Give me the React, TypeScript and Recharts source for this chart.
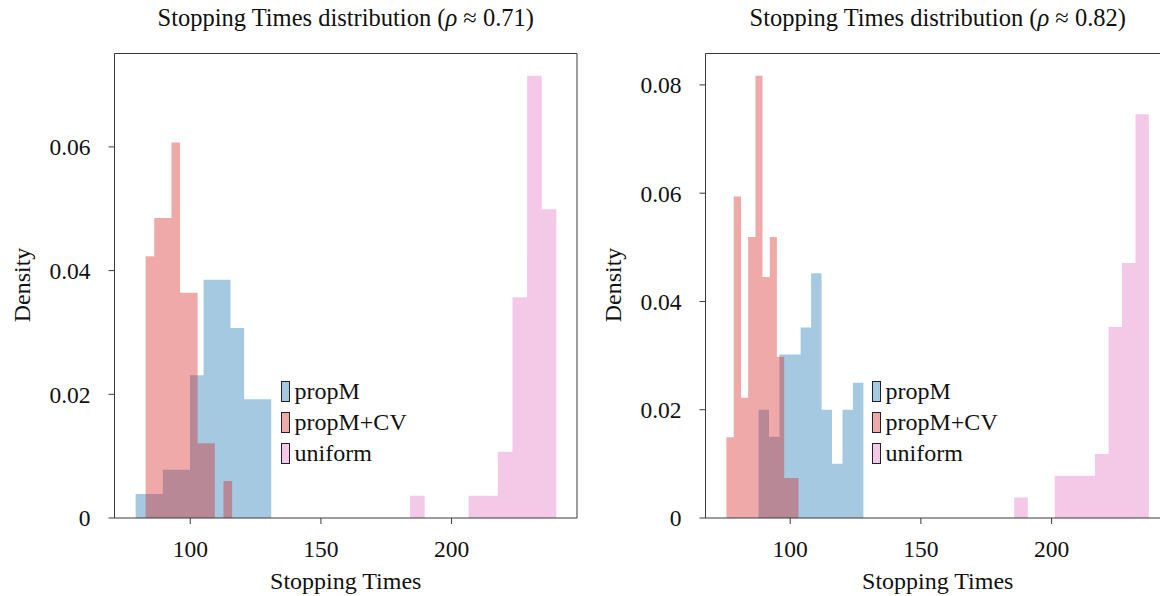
import { ComposedChart, Area, XAxis, YAxis, ReferenceLine } from "recharts";

const SERIES_NAMES = ["propM", "propM+CV", "uniform"];
const SERIES_COLORS = ["#1f77b4", "#d62728", "#e377c2"];

// rho ~ 0.71 : bin edges and densities
const leftPropMEdges = [79.1, 84.3, 89.5, 94.7, 99.9, 105.1, 110.2, 115.4, 120.6, 125.8, 131.0];
const leftPropMDensity = [0.0039, 0.0039, 0.0078, 0.0078, 0.0231, 0.0385, 0.0385, 0.0307, 0.0192, 0.0192];
const leftPropMCVEdges = [82.9, 86.2, 89.5, 92.8, 96.1, 99.5, 102.8, 106.1, 109.4, 112.7, 116.0];
const leftPropMCVDensity = [0.0423, 0.0485, 0.0485, 0.0607, 0.0364, 0.0364, 0.0121, 0.0121, 0, 0.006];
const leftUniformEdges = [184.1, 189.7, 195.3, 200.9, 206.5, 212.1, 217.7, 223.3, 228.9, 234.5, 240.1];
const leftUniformDensity = [0.0036, 0, 0, 0, 0.0036, 0.0036, 0.0107, 0.0357, 0.0715, 0.0499];

// rho ~ 0.82
const rightPropMEdges = [87.9, 91.9, 95.9, 99.9, 104.0, 108.0, 112.0, 116.0, 120.0, 124.0, 128.0];
const rightPropMDensity = [0.02, 0.015, 0.0302, 0.0302, 0.0352, 0.0452, 0.02, 0.01, 0.02, 0.025];
const rightPropMCVEdges = [75.6, 78.4, 81.2, 83.9, 86.7, 89.4, 92.2, 94.9, 97.7, 100.4, 103.2];
const rightPropMCVDensity = [0.0149, 0.0594, 0.0222, 0.0519, 0.0817, 0.0445, 0.0519, 0.0298, 0.0074, 0.0074];
const rightUniformEdges = [185.7, 190.9, 196.0, 201.2, 206.3, 211.5, 216.6, 221.8, 226.9, 232.1, 237.2];
const rightUniformDensity = [0.0038, 0, 0, 0.0078, 0.0078, 0.0078, 0.0118, 0.0353, 0.0471, 0.0746];

const xTicks = [100, 150, 200];
const leftYTicks = [0, 0.02, 0.04, 0.06];
const rightYTicks = [0, 0.02, 0.04, 0.06, 0.08];

const FONT = '"Liberation Serif", "DejaVu Serif", serif';
const AXIS = "#3a3a3a";

// step points: one per bin edge, last edge repeats last bin height
function toSteps(edges: number[], dens: number[]) {
  return edges.map((x, i) => ({ x, y: dens[Math.min(i, dens.length - 1)] }));
}

type PanelProps = {
  left: number;
  rho: string;
  xDomain: [number, number];
  yDomain: [number, number];
  yTicks: number[];
  hist: { edges: number[]; dens: number[] }[];
  marginLeft: number;
  marginRight: number;
};

function Panel({ left, rho, xDomain, yDomain, yTicks, hist, marginLeft, marginRight }: PanelProps) {
  const W = 600;
  const plotL = marginLeft + 100;
  const plotR = W - marginRight;
  const cx = (plotL + plotR) / 2;
  const tickStyle = { fontFamily: FONT, fontSize: 23.5, fill: "#111" };
  return (
    <div style={{ position: "absolute", left, top: 0, width: W, height: 596 }}>
      <div
        style={{
          position: "absolute",
          left: cx - 260,
          width: 520,
          top: 4,
          textAlign: "center",
          fontFamily: FONT,
          fontSize: 24.5,
          color: "#111",
        }}
      >
        Stopping Times distribution (<i>ρ</i> ≈ {rho})
      </div>
      <ComposedChart
        width={W}
        height={596}
        margin={{ top: 53.5, right: marginRight, bottom: 28, left: marginLeft }}
      >
        <XAxis
          type="number"
          dataKey="x"
          domain={xDomain}
          ticks={xTicks}
          allowDataOverflow
          height={50}
          tickSize={6}
          tickMargin={16}
          tick={tickStyle}
          stroke={AXIS}
          tickLine={{ stroke: AXIS }}
        />
        <YAxis
          type="number"
          domain={yDomain}
          ticks={yTicks}
          allowDataOverflow
          width={100}
          tickSize={6}
          tickMargin={18}
          tick={tickStyle}
          stroke={AXIS}
          tickLine={{ stroke: AXIS }}
          tickFormatter={(v: number) => (v === 0 ? "0" : v.toFixed(2))}
        />
        {hist.map((h, i) => (
          <Area
            key={SERIES_NAMES[i]}
            name={SERIES_NAMES[i]}
            data={toSteps(h.edges, h.dens)}
            dataKey="y"
            type="stepAfter"
            stroke="none"
            fill={SERIES_COLORS[i]}
            fillOpacity={0.4}
            isAnimationActive={false}
            dot={false}
            activeDot={false}
          />
        ))}
        <ReferenceLine y={yDomain[1]} stroke={AXIS} strokeWidth={1} />
        <ReferenceLine x={xDomain[1]} stroke={AXIS} strokeWidth={1} />
      </ComposedChart>
      <div
        style={{
          position: "absolute",
          left: cx - 150,
          top: 566,
          width: 300,
          textAlign: "center",
          fontFamily: FONT,
          fontSize: 24,
          color: "#111",
          lineHeight: "30px",
        }}
      >
        Stopping Times
      </div>
      <div
        style={{
          position: "absolute",
          left: 22 + (marginLeft - 14.5) - 60,
          top: 285 - 15,
          width: 120,
          height: 30,
          lineHeight: "30px",
          textAlign: "center",
          transform: "rotate(-90deg)",
          fontFamily: FONT,
          fontSize: 24,
          color: "#111",
        }}
      >
        Density
      </div>
      <div style={{ position: "absolute", left: plotL + 166, top: 376 }}>
        {SERIES_NAMES.map((n, i) => (
          <div key={n} style={{ display: "flex", alignItems: "center", height: 31 }}>
            <div
              style={{
                width: 7,
                height: 19,
                border: "1.5px solid #222",
                background: SERIES_COLORS[i] + "66",
                marginRight: 5,
              }}
            />
            <span style={{ fontFamily: FONT, fontSize: 24, color: "#111" }}>{n}</span>
          </div>
        ))}
      </div>
    </div>
  );
}

export default function App() {
  return (
    <div
      style={{
        position: "fixed",
        left: 0,
        top: 0,
        width: 1160,
        height: 596,
        overflow: "hidden",
        background: "#fff",
      }}
    >
      <Panel
        left={0}
        rho="0.71"
        xDomain={[71, 248]}
        yDomain={[0, 0.0751]}
        yTicks={leftYTicks}
        marginLeft={14.5}
        marginRight={23}
        hist={[
          { edges: leftPropMEdges, dens: leftPropMDensity },
          { edges: leftPropMCVEdges, dens: leftPropMCVDensity },
          { edges: leftUniformEdges, dens: leftUniformDensity },
        ]}
      />
      <Panel
        left={590}
        rho="0.82"
        xDomain={[67.6, 245.3]}
        yDomain={[0, 0.0858]}
        yTicks={rightYTicks}
        marginLeft={15.5}
        marginRight={20}
        hist={[
          { edges: rightPropMEdges, dens: rightPropMDensity },
          { edges: rightPropMCVEdges, dens: rightPropMCVDensity },
          { edges: rightUniformEdges, dens: rightUniformDensity },
        ]}
      />
    </div>
  );
}
